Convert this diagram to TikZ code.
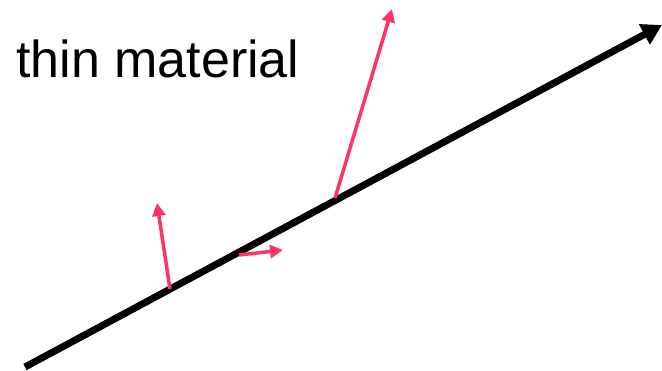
\documentclass[tikz,border=0pt]{standalone}
\usepackage{fontspec}
\setmainfont{Liberation Sans}
\usepackage{tikz}
\usetikzlibrary{arrows.meta}
\definecolor{fieldred}{RGB}{255,51,102}
\definecolor{linedark}{RGB}{0,0,0}

\tikzset{
  material/.style={draw=linedark, line width=7pt, -{Triangle[length=20pt,width=22pt]}},
  fieldvec/.style={draw=fieldred, line width=3.5pt, -{Triangle[length=13pt,width=13pt]}},
  caption/.style={inner sep=0pt, anchor=base west, font=\fontsize{52}{60}\selectfont}
}

\begin{document}
\begin{tikzpicture}[x=1pt, y=-1pt]
\useasboundingbox (0,0) rectangle (662,370);
% the thin sheet, seen edge on
\coordinate (sheetA) at (25,367);
\coordinate (sheetB) at (662,25);
\draw[material] (sheetA) -- (sheetB);
\node[caption] (title) at (16,77) {thin material};
% vectors leaving the sheet
\coordinate (vecA) at (170,289);
\coordinate (tipA) at (157,203);
\coordinate (vecB) at (239,255);
\coordinate (tipB) at (283,250);
\coordinate (vecC) at (335,198);
\coordinate (tipC) at (392,9);
\draw[fieldvec] (vecA) -- (tipA);
\draw[fieldvec] (vecB) -- (tipB);
\draw[fieldvec] (vecC) -- (tipC);
\end{tikzpicture}
\end{document}
